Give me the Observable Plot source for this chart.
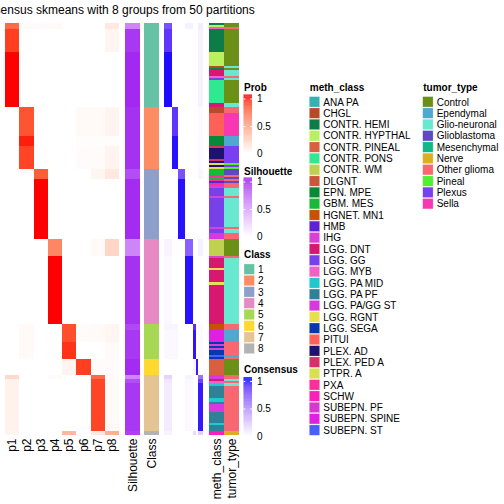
<!DOCTYPE html>
<html><head><meta charset="utf-8">
<script src="https://cdn.jsdelivr.net/npm/d3@7"></script>
<script src="https://cdn.jsdelivr.net/npm/@observablehq/plot@0.6"></script>
<style>
body{margin:0;background:#fff;}
#wrap{position:relative;width:504px;height:504px;overflow:hidden;background:#fff;}
#wrap svg{position:absolute;left:0;top:0;background:transparent;}
</style></head><body><div id="wrap"></div>
<script>
// ---------------- data ----------------
const title = "consensus skmeans with 8 groups from 50 partitions";
const probColumns = ["p1","p2","p3","p4","p5","p6","p7","p8"];
const classLabels = ["1","2","3","4","5","6","7","8"];
const classColors = ["#66C2A5","#FC8D62","#8DA0CB","#E78AC3","#A6D854","#FFD92F","#E5C494","#B3B3B3"];
const legendBreaks = [0, 0.5, 1];

// [number of samples, class]
const classRuns = [[41,1],[30,2],[34,3],[41,4],[17,5],[8,6],[27,7],[2,8]];

// [number of samples, [p1..p8]]
const probRuns = [
  [3,[0.75,0.03,0.02,0.03,0,0,0,0.12]],
  [11,[0.9,0,0,0,0,0,0,0.05]],
  [27,[1,0,0,0,0,0,0,0]],
  [14,[0,0.83,0,0,0,0.03,0.03,0.06]],
  [5,[0,0.97,0,0,0,0.01,0.01,0.01]],
  [11,[0,0.88,0,0,0,0.02,0.02,0.06]],
  [5,[0,0,0.8,0,0,0,0.05,0.12]],
  [29,[0,0,1,0,0,0,0,0]],
  [8,[0,0,0,0.62,0,0,0.03,0.22]],
  [33,[0,0,0,1,0,0,0,0]],
  [9,[0,0.03,0,0,0.85,0.02,0.03,0.05]],
  [8,[0,0.03,0,0,0.93,0,0,0.03]],
  [8,[0,0,0,0,0.06,0.9,0.02,0.02]],
  [2,[0.2,0,0,0.02,0,0,0.75,0.03]],
  [25,[0.07,0,0,0,0,0,0.88,0.03]],
  [2,[0.06,0,0,0,0.38,0,0.12,0.42]]
];

// [number of samples, silhouette]
const silhouetteRuns = [[3,0.6],[11,0.93],[27,0.98],[30,0.95],[5,0.85],[29,0.97],[8,0.6],[33,0.95],
  [3,0.87],[14,0.93],[8,0.97],[2,0.6],[2,0.85],[23,0.93],[2,0.9]];

// [number of samples, mean consensus with class 1..8]
const consensusRuns = [
  [3,[0.75,0,0,0.06,0,0,0.08,0.05]],
  [11,[0.85,0,0,0,0,0,0.06,0]],
  [27,[0.98,0,0,0,0,0,0.06,0]],
  [14,[0,0.85,0,0,0,0,0.02,0]],
  [16,[0,0.97,0,0,0,0,0.02,0]],
  [5,[0,0,0.75,0,0,0,0.04,0.05]],
  [29,[0,0,0.97,0,0,0,0,0]],
  [8,[0.05,0,0,0.68,0,0,0.06,0.1]],
  [33,[0.03,0,0,0.97,0,0,0,0]],
  [3,[0.04,0.04,0,0,0.88,0.02,0.02,0]],
  [14,[0.03,0.03,0,0,0.96,0,0.02,0]],
  [8,[0,0,0,0,0.05,0.95,0,0]],
  [2,[0.18,0,0,0.05,0,0,0.6,0.05]],
  [2,[0.1,0,0,0.03,0,0,0.8,0.03]],
  [23,[0.08,0,0,0.03,0,0,0.95,0.02]],
  [2,[0.05,0,0,0,0.15,0,0.2,0.5]]
];

const methClasses = ["ANA PA","CHGL","CONTR. HEMI","CONTR. HYPTHAL","CONTR. PINEAL","CONTR. PONS","CONTR. WM","DLGNT","EPN. MPE","GBM. MES","HGNET. MN1","HMB","IHG","LGG. DNT","LGG. GG","LGG. MYB","LGG. PA MID","LGG. PA PF","LGG. PA/GG ST","LGG. RGNT","LGG. SEGA","PITUI","PLEX. AD","PLEX. PED A","PTPR. A","PXA","SCHW","SUBEPN. PF","SUBEPN. SPINE","SUBEPN. ST"];
const methColors = ["#36B0B0","#B84A2A","#0E7C48","#B8F060","#D86040","#30E890","#C0D050","#C85838","#088838","#18B838","#C85008","#6020D8","#D840D8","#D81870","#7840E8","#F060C8","#20C8D0","#308098","#D838E0","#E8E050","#0838B0","#FF6058","#201070","#D83068","#D8E050","#F83098","#F820B8","#D838D0","#E020E0","#4860F8"];

const methRuns = [
  [1,"CONTR. HEMI"],[1,"CONTR. HYPTHAL"],[1,"LGG. MYB"],[11,"CONTR. HEMI"],[7,"CONTR. HYPTHAL"],[1,"CHGL"],[1,"CONTR. HEMI"],[3,"LGG. DNT"],[1,"LGG. MYB"],[1,"LGG. GG"],[11,"CONTR. PONS"],[2,"LGG. DNT"],
  [3,"CHGL"],[11,"PITUI"],[5,"EPN. MPE"],[1,"PLEX. PED A"],[5,"PLEX. AD"],[1,"PLEX. PED A"],[1,"PLEX. AD"],[1,"PTPR. A"],[1,"PLEX. AD"],[1,"PTPR. A"],
  [3,"GBM. MES"],[1,"PXA"],[1,"GBM. MES"],[1,"PXA"],[1,"HMB"],[1,"PXA"],[1,"IHG"],[4,"LGG. GG"],[1,"IHG"],[14,"LGG. GG"],[1,"IHG"],[2,"LGG. GG"],[3,"LGG. PA/GG ST"],
  [8,"CONTR. WM"],[1,"IHG"],[5,"LGG. DNT"],[1,"LGG. RGNT"],[6,"LGG. DNT"],[1,"LGG. RGNT"],[19,"LGG. DNT"],
  [3,"HGNET. MN1"],[6,"SUBEPN. SPINE"],[1,"LGG. SEGA"],[1,"IHG"],[1,"LGG. SEGA"],[1,"IHG"],[2,"LGG. SEGA"],[1,"SUBEPN. ST"],[1,"LGG. SEGA"],
  [8,"CONTR. PINEAL"],
  [2,"LGG. PA/GG ST"],[1,"LGG. DNT"],[1,"LGG. MYB"],[1,"LGG. PA MID"],[6,"LGG. PA PF"],[2,"LGG. PA MID"],[1,"LGG. PA PF"],[4,"LGG. PA/GG ST"],[5,"LGG. PA PF"],[1,"LGG. PA MID"],[3,"LGG. PA PF"],
  [2,"SCHW"]
];

const tumorTypes = ["Control","Ependymal","Glio-neuronal","Glioblastoma","Mesenchymal","Nerve","Other glioma","Pineal","Plexus","Sella"];
const tumorColors = ["#6B9018","#50A8D0","#68E8D0","#6048C0","#10B888","#D8B020","#F86870","#50F030","#7840F0","#F838B0"];

const tumorRuns = [
  [2,"Control"],[1,"Other glioma"],[18,"Control"],[1,"Glio-neuronal"],[1,"Control"],[3,"Glio-neuronal"],[1,"Other glioma"],[1,"Glio-neuronal"],[11,"Control"],[2,"Glio-neuronal"],
  [3,"Other glioma"],[11,"Sella"],[5,"Ependymal"],[8,"Plexus"],[1,"Pineal"],[1,"Plexus"],[1,"Pineal"],
  [3,"Glioblastoma"],[1,"Other glioma"],[1,"Glioblastoma"],[1,"Other glioma"],[1,"Glioblastoma"],[2,"Other glioma"],[4,"Glio-neuronal"],[1,"Other glioma"],[14,"Glio-neuronal"],[1,"Other glioma"],[2,"Glio-neuronal"],[3,"Other glioma"],
  [8,"Control"],[1,"Other glioma"],[32,"Glio-neuronal"],
  [3,"Other glioma"],[6,"Ependymal"],[6,"Other glioma"],[1,"Ependymal"],[1,"Other glioma"],
  [8,"Control"],
  [2,"Other glioma"],[1,"Glio-neuronal"],[1,"Other glioma"],[1,"Glio-neuronal"],[22,"Other glioma"],
  [2,"Nerve"]
];

(function () {
// ---------------- helpers ----------------
const FONT = "'Liberation Sans', Arial, Helvetica, sans-serif";
const probColor = d3.interpolateLab("#ffffff", "#ff0000");
const silColor = d3.interpolateLab("#ffffff", "#a020f0");
const consColor = d3.interpolateLab("#ffffff", "#0000ff");
const methColor = new Map(methClasses.map((m, i) => [m, methColors[i]]));
const tumorColor = new Map(tumorTypes.map((m, i) => [m, tumorColors[i]]));

function segments(runs) {
  let s = 0;
  return runs.map(([n, v]) => { const seg = {start: s, end: s + n, v}; s += n; return seg; });
}
const N = d3.sum(classRuns, d => d[0]);
const classSizes = classRuns.map(d => d[0]);
const classOffsets = [0, ...d3.cumsum(classSizes)];

// ---------------- layout (px) ----------------
const topY = 22.7, bottomY = 435;
const probL = 5, probR = 119;
const probW = (probR - probL) / probColumns.length;
const silX = [125, 139.5];
const classX = [144, 158.7];
const consX = [164, 203.4];
const methX = [209, 223.6];
const tumorX = [224.2, 238.6];

// ---------------- heatmap cells ----------------
const cells = [];
for (const s of segments(probRuns)) s.v.forEach((p, j) => cells.push({x1: probL + j * probW, x2: probL + (j + 1) * probW, y1: s.start, y2: s.end, fill: probColor(p)}));
for (const s of segments(silhouetteRuns)) cells.push({x1: silX[0], x2: silX[1], y1: s.start, y2: s.end, fill: silColor(s.v)});
for (const s of segments(classRuns)) cells.push({x1: classX[0], x2: classX[1], y1: s.start, y2: s.end, fill: classColors[s.v - 1]});
const consW = consX[1] - consX[0];
for (const s of segments(consensusRuns)) s.v.forEach((c, j) => cells.push({
  x1: consX[0] + consW * classOffsets[j] / N, x2: consX[0] + consW * classOffsets[j + 1] / N,
  y1: s.start, y2: s.end, fill: consColor(c)}));
for (const s of segments(methRuns)) cells.push({x1: methX[0], x2: methX[1], y1: s.start, y2: s.end, fill: methColor.get(s.v)});
for (const s of segments(tumorRuns)) cells.push({x1: tumorX[0], x2: tumorX[1], y1: s.start, y2: s.end, fill: tumorColor.get(s.v)});

const heat = Plot.plot({
  width: 504, height: 504, margin: 0,
  style: {fontFamily: FONT, background: "transparent"},
  x: {type: "linear", domain: [0, 504], range: [0, 504], axis: null},
  y: {type: "linear", domain: [0, N], range: [topY, bottomY], axis: null},
  color: {type: "identity"},
  marks: [
    Plot.rect(cells, {x1: "x1", x2: "x2", y1: "y1", y2: "y2", fill: "fill", shapeRendering: "crispEdges"})
  ]
});

// ---------------- labels & legends (pixel frame) ----------------
const colLabels = [
  ...probColumns.map((p, j) => ({t: p, x: probL + (j + 0.5) * probW})),
  {t: "Silhouette", x: (silX[0] + silX[1]) / 2},
  {t: "Class", x: (classX[0] + classX[1]) / 2},
  {t: "meth_class", x: (methX[0] + methX[1]) / 2},
  {t: "tumor_type", x: (tumorX[0] + tumorX[1]) / 2}
];

const legX = 243.5, legW = 8.5, labX = 256.5;
const contLegends = [
  {name: "Prob", titleY: 90, y1: 98.5, y0: 153.5, ramp: probColor},
  {name: "Silhouette", titleY: 174, y1: 181.5, y0: 236.5, ramp: silColor},
  {name: "Consensus", titleY: 372.5, y1: 381, y0: 436, ramp: consColor}
];
const gradRects = [], tickLines = [], legTexts = [], legTitles = [];
for (const L of contLegends) {
  const ys = d3.scaleLinear().domain([0, 1]).range([L.y0, L.y1]);
  const yTop = L.y1 - 4, yBot = L.y0 + 4;
  const steps = 90;
  for (let k = 0; k < steps; k++) {
    const ya = yBot + (yTop - yBot) * k / steps, yb = yBot + (yTop - yBot) * (k + 1) / steps;
    const v = Math.max(0, Math.min(1, ys.invert((ya + yb) / 2)));
    gradRects.push({x1: legX, x2: legX + legW, y1: ya, y2: yb - 0.01, fill: L.ramp(v)});
  }
  for (const br of legendBreaks) {
    tickLines.push({x1: legX, x2: legX + 1.8, y: ys(br)});
    tickLines.push({x1: legX + legW - 1.8, x2: legX + legW, y: ys(br)});
    legTexts.push({t: String(br), x: labX, y: ys(br)});
  }
  legTitles.push({t: L.name, x: legX, y: L.titleY});
}
// Class legend
const step = 11.32, sw = 10.4;
const classTitleY = 257.3, classFirst = 269.2;
legTitles.push({t: "Class", x: legX, y: classTitleY});
const swatches = [];
classLabels.forEach((c, i) => {
  const cy = classFirst + i * step;
  swatches.push({x1: legX + 0.5, x2: legX + 0.5 + sw, y1: cy - sw / 2, y2: cy + sw / 2, fill: classColors[i]});
  legTexts.push({t: c, x: labX + 1, y: cy});
});
// meth_class & tumor_type legends
const discTitleY = 90, discFirst = 101.8;
const methLX = 309.3, tumorLX = 422.7;
legTitles.push({t: "meth_class", x: methLX, y: discTitleY});
legTitles.push({t: "tumor_type", x: tumorLX, y: discTitleY});
methClasses.forEach((m, i) => {
  const cy = discFirst + i * step;
  swatches.push({x1: methLX, x2: methLX + sw, y1: cy - sw / 2, y2: cy + sw / 2, fill: methColors[i]});
  legTexts.push({t: m, x: methLX + 13.5, y: cy});
});
tumorTypes.forEach((m, i) => {
  const cy = discFirst + i * step;
  swatches.push({x1: tumorLX, x2: tumorLX + sw, y1: cy - sw / 2, y2: cy + sw / 2, fill: tumorColors[i]});
  legTexts.push({t: m, x: tumorLX + 13.5, y: cy});
});

const over = Plot.plot({
  width: 504, height: 504, margin: 0,
  style: {fontFamily: FONT, background: "transparent"},
  x: {type: "linear", domain: [0, 504], range: [0, 504], axis: null},
  y: {type: "linear", domain: [0, 504], range: [0, 504], axis: null},
  color: {type: "identity"},
  marks: [
    Plot.text([title], {x: () => 114.5, y: () => 13.3, text: d => d, fontSize: 12, lineAnchor: "bottom", textAnchor: "middle", fill: "#000"}),
    Plot.text(colLabels, {x: "x", y: () => bottomY + 3, text: "t", rotate: -90, textAnchor: "end", lineAnchor: "middle", fontSize: 12, fill: "#000"}),
    Plot.rect(gradRects, {x1: "x1", x2: "x2", y1: "y1", y2: "y2", fill: "fill"}),
    Plot.ruleY(tickLines, {x1: "x1", x2: "x2", y: "y", stroke: "#fff", strokeWidth: 1}),
    Plot.rect(swatches, {x1: "x1", x2: "x2", y1: "y1", y2: "y2", fill: "fill", stroke: "#fff", strokeOpacity: 0.4, strokeWidth: 0.6}),
    Plot.text(legTitles, {x: "x", y: "y", text: "t", fontSize: 10, fontWeight: "bold", textAnchor: "start", lineAnchor: "bottom", fill: "#000"}),
    Plot.text(legTexts, {x: "x", y: "y", text: "t", fontSize: 10, textAnchor: "start", lineAnchor: "middle", fill: "#000"})
  ]
});

const wrap = document.getElementById("wrap");
wrap.appendChild(heat);
wrap.appendChild(over);
})();
</script>
</body></html>
